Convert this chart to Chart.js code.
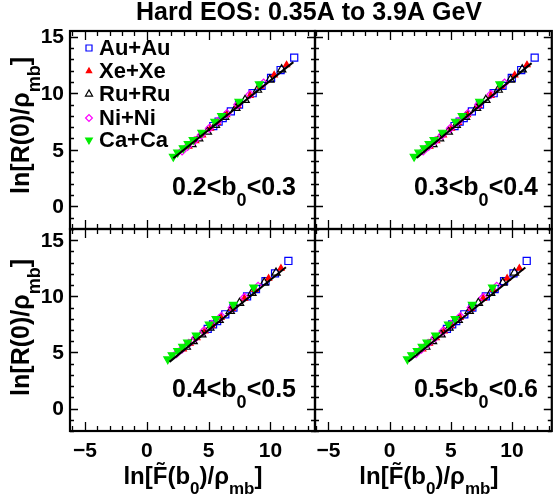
<!DOCTYPE html>
<html>
<head>
<meta charset="utf-8">
<script src="https://cdn.jsdelivr.net/npm/chart.js@4.4.1/dist/chart.umd.min.js"></script>
<style>
  body { margin: 0; background: #fff; }
  #wrap { position: relative; width: 558px; height: 500px; }
  #wrap canvas { position: absolute; left: 0; top: 0; }
</style>
</head>
<body>
<div id="wrap">
  <canvas id="p0" width="558" height="500"></canvas>
  <canvas id="p1" width="558" height="500"></canvas>
  <canvas id="p2" width="558" height="500"></canvas>
  <canvas id="p3" width="558" height="500"></canvas>
</div>
<script>
// ---- data ----
const title = 'Hard EOS: 0.35A to 3.9A GeV';
const seriesNames = ['Au+Au', 'Xe+Xe', 'Ru+Ru', 'Ni+Ni', 'Ca+Ca'];
const binEdges = [[0.2, 0.3], [0.3, 0.4], [0.4, 0.5], [0.5, 0.6]];
const xTicks = [-5, 0, 5, 10];
const yTicks = [0, 5, 10, 15];

// y values (ln[R(0)/rho_mb]) per system
const yAu = [7.1, 7.5, 7.8, 8.4, 9.0, 10.0, 10.65, 11.35, 12.05, 13.15];
const yXe = [5.3, 5.8, 6.3, 6.9, 7.4, 8.1, 8.9, 9.8, 10.6, 11.6, 12.5];
const yRu = [5.5, 6.0, 6.6, 7.2, 7.9, 8.7, 9.4, 10.3, 11.2, 12.1];
const yNi = [4.9, 5.3, 5.8, 6.3, 6.9, 7.5, 8.2, 9.0, 9.9, 10.9];
const yCa = [4.4, 4.77, 5.15, 5.53, 5.89, 6.53, 7.5, 8.0, 9.27, 10.8];

// x values (ln[F(b0)/rho_mb]) per system, one row per b0 bin
const xAu = [
  [5.38, 5.81, 6.14, 6.8, 7.46, 8.56, 9.28, 10.05, 10.82, 11.92],
  [5.3, 5.72, 6.05, 6.72, 7.38, 8.5, 9.22, 9.98, 10.75, 11.85],
  [4.93, 5.36, 5.69, 6.35, 7.01, 8.11, 8.83, 9.6, 10.37, 11.45],
  [4.68, 5.11, 5.44, 6.1, 6.76, 7.86, 8.58, 9.35, 10.12, 11.2]
];
const xXe = [
  [3.4, 3.95, 4.5, 5.15, 5.7, 6.45, 7.35, 8.35, 9.2, 10.3, 11.3],
  [3.28, 3.83, 4.38, 5.04, 5.6, 6.35, 7.26, 8.27, 9.12, 10.22, 11.22],
  [2.95, 3.5, 4.05, 4.7, 5.25, 6.0, 6.9, 7.9, 8.75, 9.85, 10.85],
  [2.7, 3.25, 3.8, 4.45, 5.0, 5.75, 6.65, 7.65, 8.5, 9.6, 10.6]
];
const xRu = [
  [3.65, 4.2, 4.9, 5.55, 6.3, 7.2, 7.95, 8.95, 9.95, 10.9],
  [3.53, 4.08, 4.79, 5.44, 6.2, 7.1, 7.86, 8.87, 9.88, 10.83],
  [3.2, 3.75, 4.45, 5.1, 5.85, 6.75, 7.5, 8.5, 9.5, 10.45],
  [2.95, 3.5, 4.2, 4.85, 5.6, 6.5, 7.25, 8.25, 9.25, 10.2]
];
const xNi = [
  [2.86, 3.3, 3.85, 4.4, 5.06, 5.71, 6.48, 7.36, 8.35, 9.45],
  [2.74, 3.18, 3.73, 4.29, 4.96, 5.61, 6.39, 7.28, 8.28, 9.39],
  [2.41, 2.85, 3.4, 3.95, 4.61, 5.26, 6.03, 6.91, 7.9, 9.0],
  [2.16, 2.6, 3.15, 3.7, 4.36, 5.01, 5.78, 6.66, 7.65, 8.75]
];
const xCa = [
  [2.15, 2.5, 2.95, 3.35, 3.75, 4.45, 5.5, 6.05, 7.45, 9.1],
  [2.0, 2.38, 2.82, 3.22, 3.62, 4.32, 5.38, 5.92, 7.35, 9.0],
  [1.7, 2.05, 2.5, 2.9, 3.3, 4.0, 5.05, 5.6, 7.0, 8.65],
  [1.45, 1.8, 2.25, 2.65, 3.05, 3.75, 4.8, 5.35, 6.75, 8.4]
];

// linear fit line end points per bin
const fitX = [[2.15, 11.85], [2.19, 11.6], [1.84, 11.25], [1.54, 11.09]];
const fitY = [[4.25, 12.75], [4.27, 12.66], [4.16, 12.6], [4.2, 12.57]];

// ---- layout ----
const W = 558, H = 500;
const colX = [[70, 315], [315, 553]];
const rowY = [[31, 229], [229, 431]];
const xRange = [[-6.2, 13.6], [-6.1, 13.25]];
const yRange = [[-2, 15.5], [-2, 16]];
const FONT = '"Liberation Sans", Arial, Helvetica, sans-serif';

const markers = [
  { pointStyle: 'rect', radius: 5, color: '#0000ff', filled: false, rotation: 0 },
  { pointStyle: 'triangle', radius: 3.6, color: '#ff0000', filled: true, rotation: 0 },
  { pointStyle: 'triangle', radius: 4.8, color: '#000000', filled: false, rotation: 0 },
  { pointStyle: 'rectRot', radius: 4, color: '#ff00ff', filled: false, rotation: 0 },
  { pointStyle: 'triangle', radius: 4.5, color: '#00ee00', filled: true, rotation: 180 }
];

function pts(xs, ys) {
  return xs.map((x, i) => ({ x: x, y: ys[i] }));
}

function font(size) {
  return 'bold ' + size + 'px ' + FONT;
}

// text with subscripts: parts = [[text, isSub], ...]
function richWidth(ctx, parts, size) {
  let w = 0;
  parts.forEach(p => {
    ctx.font = font(p[1] ? Math.round(size * 0.72) : size);
    w += ctx.measureText(p[0]).width;
  });
  return w;
}

function drawRich(ctx, parts, x, y, size, align) {
  const w = richWidth(ctx, parts, size);
  let cx = align === 'right' ? x - w : align === 'center' ? x - w / 2 : x;
  ctx.textAlign = 'left';
  ctx.textBaseline = 'alphabetic';
  parts.forEach(p => {
    ctx.font = font(p[1] ? Math.round(size * 0.72) : size);
    ctx.fillText(p[0], cx, p[1] ? y + size * 0.42 : y);
    cx += ctx.measureText(p[0]).width;
  });
}

const framePlugin = {
  id: 'frame',
  afterDraw(chart, args, opts) {
    const ctx = chart.ctx;
    const a = chart.chartArea;
    const xs = chart.scales.x, ys = chart.scales.y;
    const idx = opts.index;
    const col = idx % 2, row = Math.floor(idx / 2);
    ctx.save();
    ctx.fillStyle = '#000';
    ctx.strokeStyle = '#000';

    // ticks on all four sides, pointing inward
    ctx.lineWidth = 1.3;
    ctx.beginPath();
    for (let v = Math.ceil(xs.min); v <= Math.floor(xs.max); v++) {
      const px = Math.round(xs.getPixelForValue(v)) + 0.5;
      const len = v % 5 === 0 ? 9 : 5;
      ctx.moveTo(px, a.bottom); ctx.lineTo(px, a.bottom - len);
      ctx.moveTo(px, a.top); ctx.lineTo(px, a.top + len);
    }
    for (let v = Math.ceil(ys.min); v <= Math.floor(ys.max); v++) {
      const py = Math.round(ys.getPixelForValue(v)) + 0.5;
      const len = v % 5 === 0 ? 8 : 4;
      ctx.moveTo(a.left, py); ctx.lineTo(a.left + len, py);
      ctx.moveTo(a.right, py); ctx.lineTo(a.right - len, py);
    }
    ctx.stroke();

    // frame
    ctx.lineWidth = 2.2;
    ctx.strokeRect(a.left, a.top, a.right - a.left, a.bottom - a.top);

    // tick labels
    if (col === 0) {
      ctx.font = font(21);
      ctx.textAlign = 'right';
      ctx.textBaseline = 'middle';
      yTicks.forEach(v => {
        if (v <= ys.max) ctx.fillText(String(v), a.left - 6, ys.getPixelForValue(v) + 1);
      });
      ctx.save();
      ctx.translate(29, row === 0 ? 57 : 259);
      ctx.rotate(-Math.PI / 2);
      drawRich(ctx, [['ln[R(0)/\u03c1', false], ['mb', true], [']', false]], 0, 0, 25, 'right');
      ctx.restore();
    }
    if (row === 1) {
      ctx.font = font(21);
      ctx.textAlign = 'center';
      ctx.textBaseline = 'middle';
      xTicks.forEach(v => {
        const s = v < 0 ? '\u2212' + Math.abs(v) : String(v);
        ctx.fillText(s, xs.getPixelForValue(v), 451);
      });
      drawRich(ctx, [['ln[F\u0303(b', false], ['0', true], [')/\u03c1', false], ['mb', true], [']', false]],
        (a.left + a.right) / 2 + (col === 0 ? 70 : 65), 484, 24, 'right');
    }

    // bin label
    const e = binEdges[idx];
    ctx.fillStyle = '#000';
    drawRich(ctx, [[e[0].toFixed(1) + '<b', false], ['0', true], ['<' + e[1].toFixed(1), false]],
      col === 0 ? 172 : 414, row === 0 ? 195 : 397, 25, 'left');

    if (idx === 0) {
      // title
      ctx.font = font(25);
      ctx.textAlign = 'center';
      ctx.textBaseline = 'alphabetic';
      ctx.fillText(title, 309, 20);
      // legend
      const rows = [48, 71, 94, 118, 140];
      seriesNames.forEach((name, i) => {
        const m = markers[i];
        ctx.save();
        ctx.strokeStyle = m.color;
        ctx.fillStyle = m.filled ? m.color : 'rgba(0,0,0,0)';
        ctx.lineWidth = 1.2;
        Chart.helpers.drawPoint(ctx, {
          pointStyle: m.pointStyle, radius: m.radius * 0.85, rotation: m.rotation, borderWidth: 1.2
        }, 89, rows[i]);
        ctx.restore();
        ctx.font = font(22);
        ctx.textAlign = 'left';
        ctx.textBaseline = 'middle';
        ctx.fillStyle = '#000';
        ctx.fillText(name, 99, rows[i] + 1);
      });
    }
    ctx.restore();
  }
};

function makePanel(idx) {
  const col = idx % 2, row = Math.floor(idx / 2);
  const xsets = [xAu, xXe, xRu, xNi, xCa];
  const ysets = [yAu, yXe, yRu, yNi, yCa];
  const datasets = [{
    type: 'line',
    label: 'fit',
    data: pts(fitX[idx], fitY[idx]),
    borderColor: '#000',
    borderWidth: 2,
    pointRadius: 0,
    showLine: true,
    fill: false
  }];
  // Ca drawn last in list -> Au drawn first (bottom)
  for (let i = seriesNames.length - 1; i >= 0; i--) {
    const m = markers[i];
    datasets.push({
      label: seriesNames[i],
      data: pts(xsets[i][idx], ysets[i]),
      pointStyle: m.pointStyle,
      pointRadius: m.radius,
      pointRotation: m.rotation,
      pointBorderWidth: 1.2,
      borderColor: m.color,
      backgroundColor: m.filled ? m.color : 'rgba(0,0,0,0)',
      showLine: false
    });
  }
  const ctx = document.getElementById('p' + idx).getContext('2d');
  return new Chart(ctx, {
    type: 'scatter',
    data: { datasets: datasets },
    options: {
      responsive: false,
      animation: false,
      devicePixelRatio: 1,
      layout: {
        padding: {
          left: colX[col][0],
          right: W - colX[col][1],
          top: rowY[row][0],
          bottom: H - rowY[row][1]
        }
      },
      scales: {
        x: { type: 'linear', min: xRange[col][0], max: xRange[col][1], display: false },
        y: { type: 'linear', min: yRange[row][0], max: yRange[row][1], display: false }
      },
      plugins: {
        legend: { display: false },
        tooltip: { enabled: false },
        frame: { index: idx }
      }
    },
    plugins: [framePlugin]
  });
}

[0, 1, 2, 3].forEach(makePanel);
</script>
</body>
</html>
